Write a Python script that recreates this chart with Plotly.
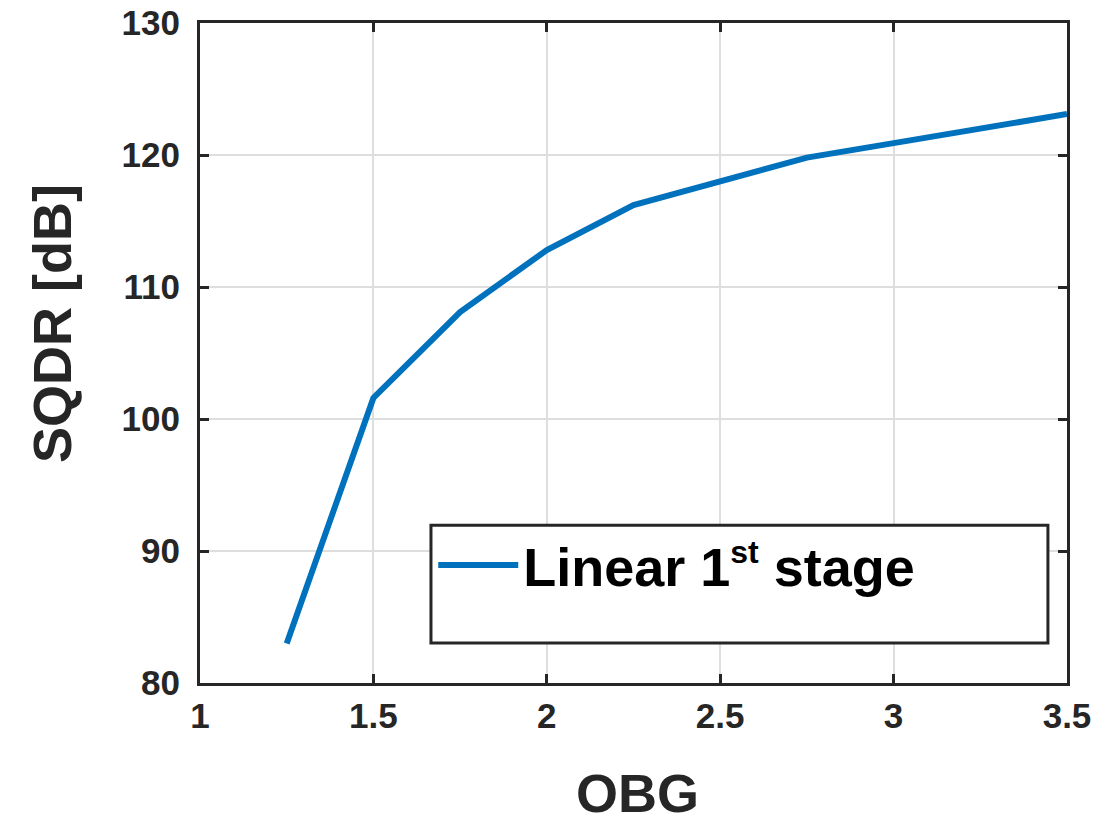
import plotly.graph_objects as go

obg = [1.25, 1.5, 1.75, 2.0, 2.25, 2.5, 2.75, 3.0, 3.25, 3.5]
sqdr = [83.0, 101.6, 108.1, 112.8, 116.2, 118.0, 119.8, 120.9, 122.0, 123.1]
series_name = "Linear 1<sup><span style='font-size:32px'>st</span></sup> stage"
x_ticks = [1, 1.5, 2, 2.5, 3, 3.5]
x_ticktext = ["1", "1.5", "2", "2.5", "3", "3.5"]
y_ticks = [80, 90, 100, 110, 120, 130]
x_title = "OBG"
y_title = "SQDR [dB]"

FONT = "Liberation Sans, Arial, sans-serif"
AX = "#262626"
GRID = "#dedede"

fig = go.Figure()
fig.add_trace(go.Scatter(
    x=obg, y=sqdr, mode="lines", name=series_name,
    line=dict(color="#0072BD", width=6),
))

axis_common = dict(
    showline=True, linecolor=AX, linewidth=3, mirror="ticks",
    ticks="inside", ticklen=9, tickwidth=3, tickcolor=AX,
    showgrid=True, gridcolor=GRID, gridwidth=2, zeroline=False,
    automargin=False, ticklabeloverflow="allow",
    tickfont=dict(family=FONT, size=35, color=AX, weight=700),
)

fig.update_xaxes(range=[1, 3.5], tickvals=x_ticks, ticktext=x_ticktext, **axis_common)
fig.update_yaxes(range=[80, 130], tickvals=y_ticks, ticklabelstandoff=10, **axis_common)

# legend frame
fig.add_shape(type="rect", xref="paper", yref="paper",
              x0=0.2664, x1=0.978, y0=0.0606, y1=0.239,
              line=dict(color=AX, width=3), fillcolor="white", layer="above")

title_font = dict(family=FONT, size=54, color=AX, weight=700)
fig.add_annotation(text=y_title, xref="paper", yref="paper",
                   x=-0.17, y=0.545, xanchor="center", yanchor="middle",
                   textangle=-90, showarrow=False, font=title_font)
fig.add_annotation(text=x_title, xref="paper", yref="paper",
                   x=0.505, y=-0.167, xanchor="center", yanchor="middle",
                   showarrow=False, font=title_font)

fig.update_layout(
    width=1111, height=807,
    margin=dict(l=192, r=52, t=15, b=132, autoexpand=False),
    paper_bgcolor="white", plot_bgcolor="white",
    showlegend=True,
    legend=dict(x=0.269, y=0.242, xanchor="left", yanchor="top",
                bgcolor="rgba(0,0,0,0)", borderwidth=0,
                itemwidth=80,
                font=dict(family=FONT, size=54, color="black", weight=700)),
)

fig.write_html("out.html")
